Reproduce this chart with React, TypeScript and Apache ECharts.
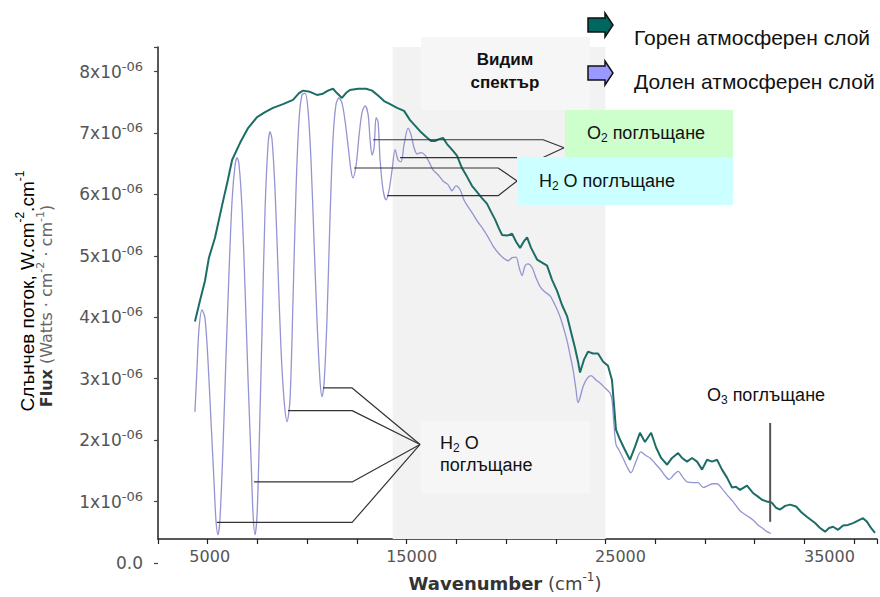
import React, { useEffect, useRef } from "react";
import * as echarts from "echarts";

// Wavenumber (cm^-1) and flux (x10^-6 W.cm^-2.cm^-1)
const UPPER_X = [4350, 4600, 4850, 5050, 5350, 5700, 6000, 6210, 6610, 7010, 7460, 7860, 8260, 8760, 9260, 9560, 9760, 10110, 10460, 10760, 11010, 11260, 11460, 11710, 11910, 12110, 12520, 12920, 13220, 13520, 13820, 14120, 14470, 14820, 15120, 15370, 15620, 15920, 16170, 16370, 16570, 16770, 16970, 17220, 17470, 17720, 17970, 18220, 18470, 18720, 18970, 19170, 19380, 19580, 19730, 19980, 20230, 20430, 20630, 20830, 20980, 21180, 21480, 21730, 21980, 22230, 22480, 22730, 22980, 23180, 23380, 23530, 23630, 23830, 24030, 24280, 24530, 24780, 25030, 25230, 25330, 25430, 25630, 25880, 26130, 26380, 26630, 26880, 27190, 27440, 27690, 27990, 28240, 28540, 28740, 28990, 29240, 29490, 29740, 29990, 30240, 30490, 30740, 30990, 31240, 31440, 31640, 31990, 32290, 32540, 32740, 32990, 33240, 33440, 33650, 33900, 34150, 34450, 34700, 35000, 35200, 35400, 35650, 35900, 36100, 36300, 36550, 36800, 37050, 37300, 37550, 37800, 38000, 38200, 38400];
const UPPER_Y = [3.93, 4.27, 4.59, 4.97, 5.29, 5.81, 6.24, 6.56, 6.84, 7.08, 7.26, 7.34, 7.41, 7.47, 7.54, 7.65, 7.69, 7.67, 7.62, 7.64, 7.69, 7.72, 7.65, 7.57, 7.65, 7.70, 7.72, 7.72, 7.69, 7.61, 7.52, 7.47, 7.41, 7.36, 7.21, 7.12, 7.03, 6.94, 6.87, 6.87, 6.90, 6.92, 6.82, 6.73, 6.63, 6.43, 6.29, 6.14, 6.04, 5.94, 5.85, 5.72, 5.59, 5.44, 5.34, 5.33, 5.36, 5.23, 5.13, 5.24, 5.30, 5.13, 4.94, 4.89, 4.84, 4.61, 4.43, 4.20, 4.02, 3.76, 3.50, 3.28, 3.10, 3.31, 3.44, 3.41, 3.41, 3.28, 3.21, 2.98, 2.58, 2.17, 2.01, 1.84, 1.68, 1.89, 2.12, 1.97, 2.12, 1.88, 1.71, 1.60, 1.71, 1.79, 1.71, 1.65, 1.71, 1.65, 1.52, 1.68, 1.65, 1.68, 1.52, 1.39, 1.23, 1.24, 1.19, 1.26, 1.14, 1.08, 1.03, 1.00, 0.98, 0.90, 0.87, 0.93, 0.95, 0.92, 0.83, 0.75, 0.70, 0.65, 0.57, 0.51, 0.57, 0.59, 0.54, 0.61, 0.62, 0.65, 0.69, 0.73, 0.67, 0.57, 0.49];

const LOWER_X = [4350, 4450, 4550, 4700, 4850, 5000, 5150, 5300, 5400, 5500, 5600, 5750, 5900, 6060, 6210, 6360, 6460, 6560, 6710, 6860, 7010, 7160, 7260, 7360, 7460, 7560, 7710, 7860, 8010, 8110, 8210, 8360, 8510, 8660, 8810, 8960, 9110, 9260, 9410, 9560, 9710, 9860, 10010, 10160, 10310, 10460, 10610, 10710, 10810, 10960, 11110, 11260, 11410, 11560, 11710, 11860, 12010, 12160, 12260, 12420, 12570, 12720, 12870, 13020, 13120, 13220, 13320, 13420, 13520, 13620, 13770, 13920, 14070, 14220, 14370, 14520, 14670, 14820, 15020, 15170, 15320, 15470, 15670, 15870, 16070, 16270, 16520, 16770, 17020, 17220, 17420, 17620, 17820, 18020, 18270, 18520, 18770, 19020, 19280, 19530, 19780, 20030, 20230, 20430, 20580, 20730, 20880, 21030, 21230, 21430, 21630, 21880, 22130, 22380, 22630, 22830, 22980, 23130, 23280, 23430, 23530, 23630, 23780, 23980, 24180, 24430, 24630, 24880, 25130, 25230, 25330, 25430, 25580, 25780, 25980, 26180, 26430, 26680, 26930, 27140, 27390, 27640, 27890, 28090, 28340, 28540, 28790, 28990, 29290, 29540, 29790, 30040, 30290, 30490, 30740, 30990, 31290, 31640, 31990, 32290, 32540, 32790, 32990, 33190];
const LOWER_Y = [2.46, 3.15, 3.80, 4.12, 3.99, 3.31, 2.33, 1.36, 0.70, 0.46, 0.70, 1.84, 3.31, 4.77, 5.91, 6.48, 6.60, 6.48, 5.75, 4.45, 2.98, 1.68, 0.79, 0.46, 0.79, 1.84, 3.80, 5.75, 6.81, 7.02, 6.89, 6.07, 4.77, 3.47, 2.66, 2.30, 2.66, 4.28, 6.07, 7.21, 7.62, 7.65, 7.38, 6.56, 5.26, 3.96, 2.98, 2.71, 2.90, 3.96, 5.59, 6.89, 7.46, 7.57, 7.49, 7.21, 6.81, 6.40, 6.27, 6.48, 6.97, 7.34, 7.44, 7.30, 6.89, 6.64, 6.76, 7.25, 7.18, 6.56, 6.07, 5.91, 6.07, 6.40, 6.73, 6.56, 6.53, 6.81, 7.08, 6.97, 6.76, 6.66, 6.68, 6.64, 6.53, 6.40, 6.32, 6.22, 6.16, 6.06, 6.14, 6.08, 5.91, 5.80, 5.68, 5.55, 5.44, 5.31, 5.16, 5.05, 4.97, 4.92, 4.97, 4.98, 4.81, 4.68, 4.84, 4.87, 4.81, 4.64, 4.50, 4.41, 4.35, 4.20, 4.01, 3.80, 3.62, 3.39, 3.15, 2.82, 2.61, 2.69, 2.87, 3.00, 3.05, 2.98, 2.93, 2.85, 2.77, 2.66, 2.25, 1.93, 1.84, 1.71, 1.57, 1.47, 1.65, 1.81, 1.75, 1.71, 1.62, 1.53, 1.42, 1.36, 1.44, 1.49, 1.39, 1.32, 1.31, 1.31, 1.23, 1.26, 1.29, 1.29, 1.21, 1.11, 1.00, 0.85, 0.77, 0.70, 0.62, 0.56, 0.51, 0.48];

const X_TICK_LABELS = [5000, 15000, 25000, 35000];
const Y_TICK_VALUES = [0, 1, 2, 3, 4, 5, 6, 7, 8];
const VISIBLE_BAND = [14300, 25000];

// annotation leader lines in data coordinates [wavenumber, flux]
const LEADERS_O2 = [
  [[13270, 6.89], [21780, 6.89], [22830, 6.76]],
  [[14620, 6.6], [21780, 6.6], [22830, 6.76]],
];
const LEADERS_H2O_VIS = [
  [[12320, 6.43], [19530, 6.43], [20480, 6.22]],
  [[13970, 5.98], [19530, 5.98], [20480, 6.22]],
];
const LEADERS_H2O_IR = [
  [[10760, 2.85], [12220, 2.85], [15620, 1.93]],
  [[9010, 2.48], [12220, 2.48], [15620, 1.93]],
  [[7310, 1.32], [12220, 1.32], [15620, 1.93]],
  [[5450, 0.66], [12220, 0.66], [15620, 1.93]],
];
const LEADER_O3 = [[33150, 2.28], [33150, 0.67]];

const SERIES_UPPER = "Горен атмосферен слой";
const SERIES_LOWER = "Долен атмосферен слой";

const TXT = "'Liberation Sans', Arial, sans-serif";
const AX = "'DejaVu Sans', sans-serif";
const X_LABEL_SHIFT: Record<number, number> = { 5000: 4, 15000: 10, 25000: 30, 35000: 50 };

const ARROW = [[0, 5], [17, 5], [17, 0], [25, 12], [17, 24], [17, 19], [0, 19]];

function zip(xs: number[], ys: number[]) {
  return xs.map((x, i) => [x, ys[i]]);
}

const subRich = (size: number, color: string) => ({
  n: { fontSize: size, fontFamily: TXT, fill: color, lineHeight: 22 },
  s: { fontSize: Math.round(size * 0.65), fontFamily: TXT, fill: color, lineHeight: 10, verticalAlign: "bottom" },
});

export default function App() {
  const ref = useRef<HTMLDivElement>(null);
  useEffect(() => {
    if (!ref.current) return;
    const chart = echarts.init(ref.current, null, { renderer: "svg" });

    const leaderSeries = [...LEADERS_O2, ...LEADERS_H2O_VIS, ...LEADERS_H2O_IR, LEADER_O3].map((pts, i) => ({
      type: "line",
      name: "leader" + i,
      xAxisIndex: 0,
      yAxisIndex: 0,
      data: pts,
      symbol: "none",
      silent: true,
      z: 5,
      lineStyle: { color: i === 8 ? "#555" : "#333", width: i === 8 ? 2 : 1.2 },
    }));

    const xRich: Record<string, any> = {};
    X_TICK_LABELS.forEach((v) => {
      xRich["l" + v] = {
        fontSize: 16,
        fontFamily: AX,
        color: "#555",
        padding: [0, 0, 0, X_LABEL_SHIFT[v] || 0],
      };
    });

    const option: any = {
      animation: false,
      backgroundColor: "#ffffff",
      grid: [
        { left: 158, right: 0, top: 47, bottom: 34 },
        { left: 158, right: 0, top: 47, bottom: 58 },
      ],
      xAxis: [
        { gridIndex: 0, type: "value", min: 2500, max: 38650, show: false },
        {
          gridIndex: 1,
          type: "value",
          min: 2500,
          max: 38650,
          interval: 2500,
          axisLine: { show: true, lineStyle: { color: "#222", width: 1.5 } },
          axisTick: { show: true, length: 5, lineStyle: { color: "#222", width: 1.2 } },
          splitLine: { show: false },
          axisLabel: {
            margin: 9,
            formatter: (v: number) => (X_TICK_LABELS.includes(v) ? `{l${v}|${v}}` : ""),
            rich: xRich,
          },
        },
      ],
      yAxis: [
        {
          gridIndex: 0,
          type: "value",
          min: 0,
          max: 8.4,
          interval: 1,
          axisLine: { show: false },
          axisTick: { show: true, length: 4, lineStyle: { color: "#444", width: 1.2 } },
          splitLine: { show: false },
          axisLabel: {
            margin: 15,
            formatter: (v: number) =>
              Y_TICK_VALUES.includes(v) ? (v === 0 ? "{b|0.0}" : `{b|${v}x10}{s|-06}`) : "",
            rich: {
              b: { fontSize: 17, fontFamily: AX, color: "#555", lineHeight: 24 },
              s: { fontSize: 13, fontFamily: AX, color: "#555", lineHeight: 10, verticalAlign: "top" },
            },
          },
        },
        {
          gridIndex: 1,
          type: "value",
          min: 0,
          max: 1,
          axisLine: { show: true, lineStyle: { color: "#222", width: 1.5 } },
          axisTick: { show: false },
          axisLabel: { show: false },
          splitLine: { show: false },
        },
      ],
      series: [
        {
          type: "line",
          name: "band",
          xAxisIndex: 1,
          yAxisIndex: 1,
          data: [],
          silent: true,
          z: 0,
          markArea: {
            silent: true,
            itemStyle: { color: "#f2f2f2" },
            data: [[{ xAxis: VISIBLE_BAND[0] }, { xAxis: VISIBLE_BAND[1] }]],
          },
        },
        {
          type: "line",
          name: SERIES_LOWER,
          xAxisIndex: 0,
          yAxisIndex: 0,
          data: zip(LOWER_X, LOWER_Y),
          symbol: "none",
          smooth: 0.3,
          z: 2,
          lineStyle: { color: "#9494d2", width: 1.3 },
        },
        {
          type: "line",
          name: SERIES_UPPER,
          xAxisIndex: 0,
          yAxisIndex: 0,
          data: zip(UPPER_X, UPPER_Y),
          symbol: "none",
          z: 3,
          lineStyle: { color: "#1c6d66", width: 2 },
        },
        ...leaderSeries,
      ],
      graphic: [
        // Visible spectrum label box
        { type: "rect", z: 50, shape: { x: 421, y: 37, width: 169, height: 73 }, style: { fill: "#f6f6f6" } },
        {
          type: "text", z: 51, x: 505, y: 71,
          style: { text: "Видим\nспектър", fontSize: 17, fontWeight: "bold", fontFamily: TXT, fill: "#111", align: "center", verticalAlign: "middle", lineHeight: 23 },
        },
        // O2 box
        { type: "rect", z: 50, shape: { x: 565, y: 110, width: 168, height: 47 }, style: { fill: "#ccffcc" } },
        {
          type: "text", z: 51, x: 646, y: 133,
          style: { text: "{n|O}{s|2}{n| поглъщане}", rich: subRich(18, "#111"), align: "center", verticalAlign: "middle" },
        },
        // H2O box (visible)
        { type: "rect", z: 50, shape: { x: 517, y: 157, width: 216, height: 48 }, style: { fill: "#ccffff" } },
        {
          type: "text", z: 51, x: 607, y: 181,
          style: { text: "{n|H}{s|2}{n| O поглъщане}", rich: subRich(18, "#111"), align: "center", verticalAlign: "middle" },
        },
        // H2O box (IR)
        { type: "rect", z: 50, shape: { x: 421, y: 421, width: 169, height: 72 }, style: { fill: "#f6f6f6" } },
        {
          type: "text", z: 51, x: 440, y: 454,
          style: { text: "{n|H}{s|2}{n| O}\n{n|поглъщане}", rich: subRich(18, "#111"), align: "left", verticalAlign: "middle" },
        },
        // O3 label
        {
          type: "text", z: 51, x: 766, y: 395,
          style: { text: "{n|O}{s|3}{n| поглъщане}", rich: subRich(18, "#111"), align: "center", verticalAlign: "middle" },
        },
        // Legend
        { type: "polygon", z: 51, x: 588, y: 13, shape: { points: ARROW }, style: { fill: "#006660", stroke: "#111", lineWidth: 1.5 } },
        { type: "polygon", z: 51, x: 588, y: 61, shape: { points: ARROW }, style: { fill: "#9999ff", stroke: "#111", lineWidth: 1.5 } },
        {
          type: "text", z: 51, x: 634, y: 37,
          style: { text: SERIES_UPPER, fontSize: 21, fontFamily: TXT, fill: "#111", align: "left", verticalAlign: "middle" },
        },
        {
          type: "text", z: 51, x: 634, y: 81,
          style: { text: SERIES_LOWER, fontSize: 21, fontFamily: TXT, fill: "#111", align: "left", verticalAlign: "middle" },
        },
        // Axis titles
        {
          type: "text", z: 51, x: 27, y: 291, rotation: Math.PI / 2,
          style: {
            text: "Слънчев поток, W.cm{p|-2}.cm{p|-1}",
            fontSize: 19, fontFamily: TXT, fill: "#000", lineHeight: 26,
            align: "center", verticalAlign: "middle",
            rich: { p: { fontSize: 12, fontFamily: TXT, fill: "#000", lineHeight: 10, verticalAlign: "top" } },
          },
        },
        {
          type: "text", z: 51, x: 46, y: 306, rotation: Math.PI / 2,
          style: {
            text: "{f|Flux} (Watts · cm{p|-2} · cm{p|-1})",
            fontSize: 16, fontFamily: AX, fill: "#666", lineHeight: 22,
            align: "center", verticalAlign: "middle",
            rich: {
              f: { fontSize: 16, fontFamily: AX, fontWeight: "bold", fill: "#333", lineHeight: 22 },
              p: { fontSize: 11, fontFamily: AX, fill: "#666", lineHeight: 10, verticalAlign: "top" },
            },
          },
        },
        {
          type: "text", z: 51, x: 505, y: 583,
          style: {
            text: "{w|Wavenumber} (cm{p|-1})",
            fontSize: 18, fontFamily: AX, fill: "#444", lineHeight: 24,
            align: "center", verticalAlign: "middle",
            rich: {
              w: { fontSize: 18, fontFamily: AX, fontWeight: "bold", fill: "#333", lineHeight: 24 },
              p: { fontSize: 12, fontFamily: AX, fill: "#444", lineHeight: 10, verticalAlign: "top" },
            },
          },
        },
      ],
    };
    chart.setOption(option);
    return () => chart.dispose();
  }, []);

  return (
    <div
      ref={ref}
      style={{ position: "fixed", left: 0, top: 0, width: 880, height: 597, background: "#fff" }}
    />
  );
}
